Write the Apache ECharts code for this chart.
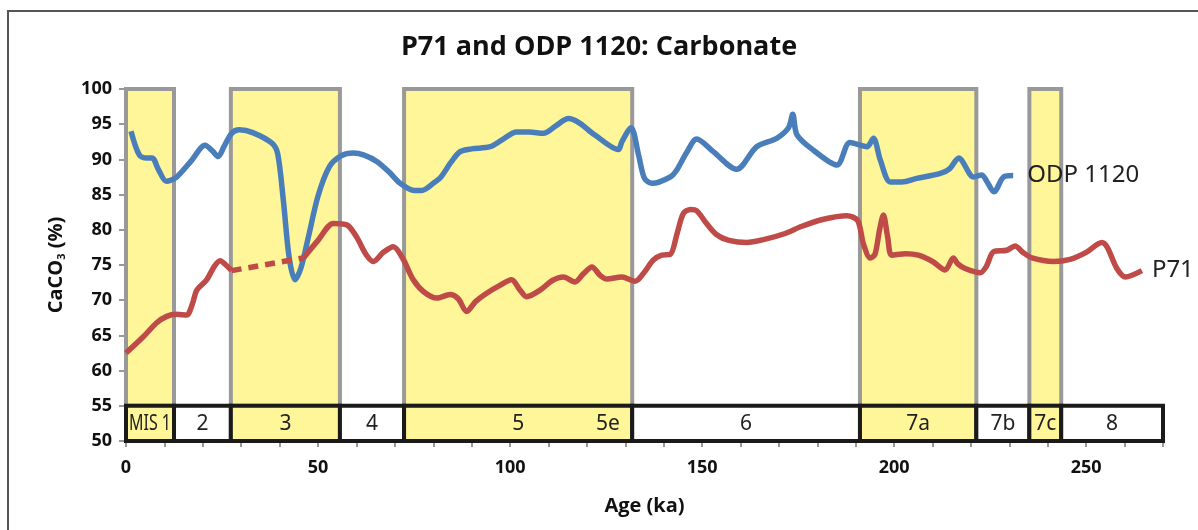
<!DOCTYPE html>
<html>
<head>
<meta charset="utf-8">
<script src="https://cdn.jsdelivr.net/npm/echarts@6/dist/echarts.min.js"></script>
<style>html,body{margin:0;padding:0;background:#fff}#c{width:1198px;height:530px}</style>
</head>
<body>
<div id="c"></div>
<script>
// ---- data ----
const chartTitle = 'P71 and ODP 1120: Carbonate';
// ODP 1120: [age (ka), CaCO3 (%)]
const odp1120 = [[1.3,94.0],[3.5,90.6],[5.5,90.2],[6.8,90.2],[8.5,88.5],[10.5,86.9],[13,87.4],[17,89.8],[20.6,92.0],[22.5,91.2],[24,90.4],[25.5,91.8],[27.5,93.7],[29.5,94.2],[33,93.8],[38,92.3],[39.5,90.8],[41,84],[42.5,76],[44,72.9],[45.5,74.5],[47.5,79],[50,84.8],[53,89],[56,90.5],[59.2,90.9],[62,90.6],[65.3,89.7],[68.5,88.2],[71.4,86.6],[75,85.6],[77,85.6],[80,86.6],[82,87.5],[84.5,89.5],[87,91.1],[90,91.5],[94.8,91.8],[98,92.8],[101.7,93.9],[105,93.9],[108.7,93.7],[112,94.8],[115.2,95.8],[118,95.2],[122,93.5],[128.2,91.4],[129.1,92.5],[131.5,94.5],[133.5,90.5],[135,87.3],[137,86.6],[141.7,87.5],[143.4,88.5],[146,91],[148.6,92.9],[152.9,91.1],[159,88.6],[164.2,91.8],[169.4,93.0],[172.5,94.5],[173.6,96.4],[174.7,93.5],[179,91.3],[185.1,89.2],[188.5,92.4],[192.9,91.8],[194.6,93.0],[196.4,89.9],[199,86.8],[202,86.8],[205.9,87.3],[212,88.0],[214.5,88.7],[216.8,90.2],[220.7,87.5],[222.8,87.8],[224,87],[226,85.4],[228.5,87.5],[231,87.7]];
// P71 before the gap
const p71Early = [[0,62.5],[4.5,64.8],[8,66.8],[10.6,67.7],[13,68.0],[15.8,67.9],[17.3,69.5],[18.4,71.4],[21,72.9],[23,74.8],[24.5,75.6],[26,75.0],[27.5,74.2]];
// P71 gap bridged with a dashed line
const p71Gap = [[27.5,74.2],[46.2,76.0]];
// P71 after the gap
const p71Late = [[46.2,76.0],[50,78.5],[54,80.9],[57.5,80.7],[60,79],[62.5,76.5],[64.4,75.5],[67,76.8],[69.6,77.6],[72,76],[74.8,72.9],[77.5,71.2],[80.9,70.3],[84.4,70.8],[86.5,70.2],[88.7,68.4],[91,69.8],[93.9,71.0],[97,72],[100.4,72.9],[102.5,71.5],[104.3,70.5],[108,71.5],[111,72.8],[113.9,73.3],[116.9,72.6],[119,73.7],[121.3,74.7],[123.5,73.5],[125.2,73.0],[129.1,73.3],[132.6,72.7],[135,74],[137.3,75.7],[139.5,76.4],[141.7,76.5],[143.5,79.5],[145.1,82.3],[147,82.9],[148.6,82.7],[151,81],[153.8,79.3],[157,78.5],[161.6,78.2],[166,78.6],[171.2,79.4],[176,80.5],[181.6,81.5],[187.7,82.0],[190.5,81.3],[192,78],[193.8,76.0],[195,76.5],[196.2,80],[197.2,82.1],[198.3,79],[199.4,76.4],[203,76.6],[206.3,76.4],[210,75.5],[213.3,74.3],[215.4,76.0],[216.5,75.2],[218.5,74.5],[222.4,73.9],[224,74.8],[225.9,76.9],[229.3,77.1],[231.5,77.7],[233.5,76.8],[235.9,76.0],[241.5,75.5],[245.8,75.8],[250,76.8],[254.1,78.2],[255.5,77.5],[258,74.5],[260.2,73.3],[264.5,74.2]];
// Marine isotope stages: [start ka, end ka, label, warm(1)/cold(0)]
const misStages = [[0,12.5,'MIS 1',1],[12.5,27.3,'2',0],[27.3,55.7,'3',1],[55.7,72.4,'4',0],[72.4,131.8,'5',1],[131.8,191.1,'6',0],[191.1,221.4,'7a',1],[221.4,235.2,'7b',0],[235.2,243.5,'7c',1],[243.5,270,'8',0]];
// extra sub-stage label inside stage 5: [age, label]
const subLabels = [[125.5,'5e']];
const bandTop = 100, bandBottom = 55, boxBottom = 50;
const xTicks = {min:0, max:270, interval:50};
const yTicks = {min:50, max:100, interval:5};

const BLUE = '#4a7ebb', RED = '#be4b48', YELLOW = '#fff599', GREY = '#999999';
const BOLD = 'Open Sans';
const tickFont = {fontFamily:BOLD, fontWeight:'bold', fontSize:18, color:'#111'};
const boxFontSize = 21, boxFont = 'Noto Sans';

const measureCtx = document.createElement('canvas').getContext('2d');
function textWidth(t){ measureCtx.font = boxFontSize + 'px "' + boxFont + '"'; return measureCtx.measureText(t).width; }

const warmBands = misStages.filter(s => s[3] === 1).map(s => [s[0], s[1]]);

const chart = echarts.init(document.getElementById('c'));
chart.setOption({
  animation:false,
  backgroundColor:'#fff',
  title:{text:chartTitle, left:'center', top:29,
    textStyle:{fontFamily:BOLD, fontWeight:'bold', fontSize:27, color:'#111'}},
  graphic:[{type:'rect', shape:{x:8, y:11, width:1200, height:530},
    style:{fill:'none', stroke:'#555', lineWidth:2}, z:100}],
  grid:{left:126, right:35, top:89, bottom:89},
  xAxis:{type:'value', min:xTicks.min, max:xTicks.max, interval:xTicks.interval,
    name:'Age (ka)', nameLocation:'middle', nameGap:55,
    nameTextStyle:{fontFamily:BOLD, fontWeight:'bold', fontSize:20, color:'#111'},
    axisLine:{show:true, lineStyle:{color:GREY, width:2}},
    axisTick:{show:true, length:6, lineStyle:{color:GREY, width:2}},
    minorTick:{show:true, splitNumber:5, length:6, lineStyle:{color:GREY, width:2}},
    splitLine:{show:false},
    axisLabel:Object.assign({margin:18, showMaxLabel:false}, tickFont)},
  yAxis:{type:'value', min:yTicks.min, max:yTicks.max, interval:yTicks.interval,
    name:'CaCO{s|3} (%)', nameLocation:'middle', nameGap:59, nameRotate:90,
    nameTextStyle:{fontFamily:BOLD, fontWeight:'bold', fontSize:20, color:'#111',
      rich:{s:{fontFamily:BOLD, fontWeight:'bold', fontSize:11, color:'#111', verticalAlign:'bottom', padding:[10,0,0,0]}}},
    axisLine:{show:true, lineStyle:{color:GREY, width:3}},
    axisTick:{show:true, length:7, lineStyle:{color:GREY, width:2}},
    splitLine:{show:false},
    axisLabel:Object.assign({margin:14}, tickFont)},
  series:[
    {type:'custom', name:'bands', z:1, silent:true,
      data:warmBands,
      encode:{x:[0,1]},
      renderItem:(params, api) => {
        const p0 = api.coord([api.value(0), bandTop]);
        const p1 = api.coord([api.value(1), bandBottom]);
        return {type:'rect', shape:{x:p0[0], y:p0[1], width:p1[0]-p0[0], height:p1[1]-p0[1]},
          style:{fill:YELLOW, stroke:GREY, lineWidth:4}};
      }},
    {type:'custom', name:'mis', z:5, silent:true,
      data:misStages,
      encode:{x:[0,1]},
      renderItem:(params, api) => {
        const s = misStages[params.dataIndex];
        const p0 = api.coord([s[0], bandBottom]);
        const p1 = api.coord([s[1], boxBottom]);
        const avail = p1[0] - p0[0] - 6;
        const tw = textWidth(s[2]);
        const sx = tw > avail ? avail / tw : 1;
        return {type:'group', children:[
          {type:'rect', shape:{x:p0[0], y:p0[1], width:p1[0]-p0[0], height:p1[1]-p0[1]},
            style:{fill:s[3] ? YELLOW : '#fff', stroke:'#1a1a1a', lineWidth:4}},
          {type:'text', x:(p0[0]+p1[0])/2, y:(p0[1]+p1[1])/2 + 1, scaleX:sx,
            style:{text:s[2], fill:'#222', fontFamily:boxFont, fontSize:boxFontSize,
              align:'center', verticalAlign:'middle'}}]};
      }},
    {type:'custom', name:'sub', z:6, silent:true,
      data:subLabels,
      encode:{x:0},
      renderItem:(params, api) => {
        const s = subLabels[params.dataIndex];
        const p = api.coord([s[0], (bandBottom+boxBottom)/2]);
        return {type:'text', x:p[0], y:p[1] + 1,
          style:{text:s[1], fill:'#222', fontFamily:boxFont, fontSize:boxFontSize, align:'center', verticalAlign:'middle'}};
      }},
    {type:'line', name:'ODP 1120', z:10, data:odp1120, smooth:0.3, showSymbol:false,
      lineStyle:{color:BLUE, width:5.5}, itemStyle:{color:BLUE},
      endLabel:{show:true, formatter:'ODP 1120', distance:14,
        fontFamily:'Noto Sans', fontSize:24, color:'#222'}},
    {type:'line', name:'P71 early', z:10, data:p71Early, smooth:0.3, showSymbol:false,
      lineStyle:{color:RED, width:5.5}, itemStyle:{color:RED}},
    {type:'line', name:'P71 gap', z:10, data:p71Gap, showSymbol:false,
      lineStyle:{color:RED, width:5.5, type:[10,7]}, itemStyle:{color:RED}},
    {type:'line', name:'P71', z:10, data:p71Late, smooth:0.3, showSymbol:false,
      lineStyle:{color:RED, width:5.5}, itemStyle:{color:RED},
      endLabel:{show:true, formatter:'P71', distance:10,
        fontFamily:'Noto Sans', fontSize:24, color:'#222'}}
  ]
});
</script>
</body>
</html>
